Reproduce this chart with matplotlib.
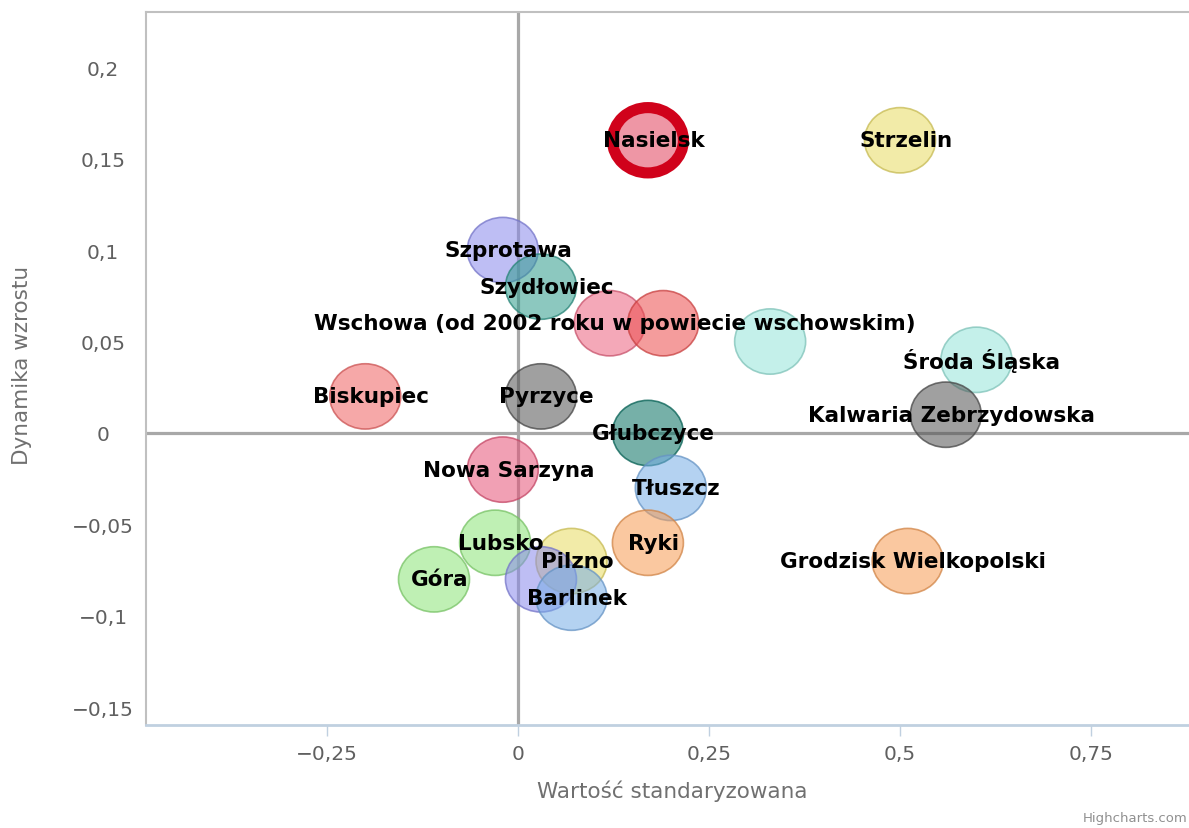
import matplotlib
matplotlib.use("Agg")
import matplotlib.pyplot as plt
from matplotlib.path import Path
from matplotlib.transforms import Affine2D
from matplotlib.colors import to_rgba

# ---- data ----
names = ["Nasielsk", "Strzelin", "Szprotawa", "Szydłowiec",
         "Wschowa (od 2002 roku w powiecie wschowskim)", "", "",
         "Środa Śląska", "Biskupiec", "Pyrzyce", "Kalwaria Zebrzydowska",
         "Głubczyce", "Nowa Sarzyna", "Tłuszcz", "Ryki", "Lubsko", "Pilzno",
         "Grodzisk Wielkopolski", "Góra", "", "Barlinek"]
x_vals = [0.17, 0.50, -0.02, 0.03, 0.12, 0.19, 0.33, 0.60, -0.20, 0.03, 0.56,
          0.17, -0.02, 0.20, 0.17, -0.03, 0.07, 0.51, -0.11, 0.03, 0.07]
y_vals = [0.16, 0.16, 0.10, 0.08, 0.06, 0.06, 0.05, 0.04, 0.02, 0.02, 0.01,
          0.00, -0.02, -0.03, -0.06, -0.06, -0.07, -0.07, -0.08, -0.08, -0.09]
colors = ["#e0405b", "#e9db61", "#8989eb", "#2e9b8c", "#eb617e", "#eb4b4b",
          "#94e4d9", "#94e4d9", "#ef6161", "#525252", "#525252", "#057062",
          "#e75277", "#77ade7", "#f69b52", "#8ce477", "#e9db61", "#f69b52",
          "#8ce477", "#8989eb", "#77ade7"]
highlight = "Nasielsk"

x_ticks = [-0.25, 0, 0.25, 0.5, 0.75]
x_tick_labels = ["−0,25", "0", "0,25", "0,5", "0,75"]
y_ticks = [-0.15, -0.1, -0.05, 0, 0.05, 0.1, 0.15, 0.2]
y_tick_labels = ["−0,15", "−0,1", "−0,05", "0", "0,05", "0,1", "0,15", "0,2"]

x_title = "Wartość standaryzowana"
y_title = "Dynamika wzrostu"
credit = "Highcharts.com"

# ---- figure ----
W, H = 1189, 829
fig = plt.figure(figsize=(W / 100, H / 100), dpi=100)
ax = fig.add_axes([146 / W, 1 - 726 / H, 1044 / W, 713 / H])
ax.set_xlim(-0.487, 0.8796)
ax.set_ylim(-0.1596, 0.2301)

# plot lines at zero
ax.axvline(0, color="#a8a8a8", lw=2.3, zorder=1)
ax.axhline(0, color="#a8a8a8", lw=2.3, zorder=1)

# elliptical bubble marker
ell = Path.unit_circle().transformed(Affine2D().scale(1.0, 0.92))

fills, edges, lws = [], [], []
for n, c in zip(names, colors):
    r, g, b, _ = to_rgba(c)
    if n == highlight:
        fills.append((r, g, b, 0.55))
        edges.append(to_rgba("#d0021b"))
        lws.append(8.0)
    else:
        fills.append((r, g, b, 0.55))
        edges.append((r * 0.85, g * 0.85, b * 0.85, 0.75))
        lws.append(1.2)

ax.scatter(x_vals, y_vals, s=71 ** 2 * 0.5184, marker=ell, c=fills,
           edgecolors=edges, linewidths=lws, zorder=2)

for n, xv, yv in zip(names, x_vals, y_vals):
    if n:
        ax.annotate(n, (xv, yv), xytext=(4, 0), textcoords="offset points",
                    ha="center", va="center", fontsize=15.5, fontweight="bold",
                    color="black", zorder=5)

# axes styling
ax.spines["right"].set_visible(False)
ax.spines["left"].set_color("#c0c0c0")
ax.spines["top"].set_color("#c0c0c0")
ax.spines["left"].set_linewidth(1.5)
ax.spines["top"].set_linewidth(1.5)
ax.spines["bottom"].set_color("#c0d0e0")
ax.spines["bottom"].set_linewidth(2)

ax.set_xticks(x_ticks)
ax.set_xticklabels(x_tick_labels)
ax.set_yticks(y_ticks)
ax.set_yticklabels(y_tick_labels)
ax.tick_params(axis="x", direction="out", length=8, width=1, color="#c0d0e0",
               labelsize=14.5, labelcolor="#606060", pad=6)
ax.tick_params(axis="y", length=0, labelsize=14.5, labelcolor="#606060", pad=31)
for lab in ax.get_yticklabels():
    lab.set_horizontalalignment("center")

ax.set_xlabel(x_title, fontsize=15.5, color="#707070")
ax.xaxis.set_label_coords(0.504, -0.076)
ax.set_ylabel(y_title, fontsize=15.5, color="#707070")
ax.yaxis.set_label_coords(-0.109, 0.505)

fig.text(1187 / W, 1 - 819 / H, credit, fontsize=9.5, color="#909090",
         ha="right", va="center")

fig.savefig("out.png", dpi=100)
